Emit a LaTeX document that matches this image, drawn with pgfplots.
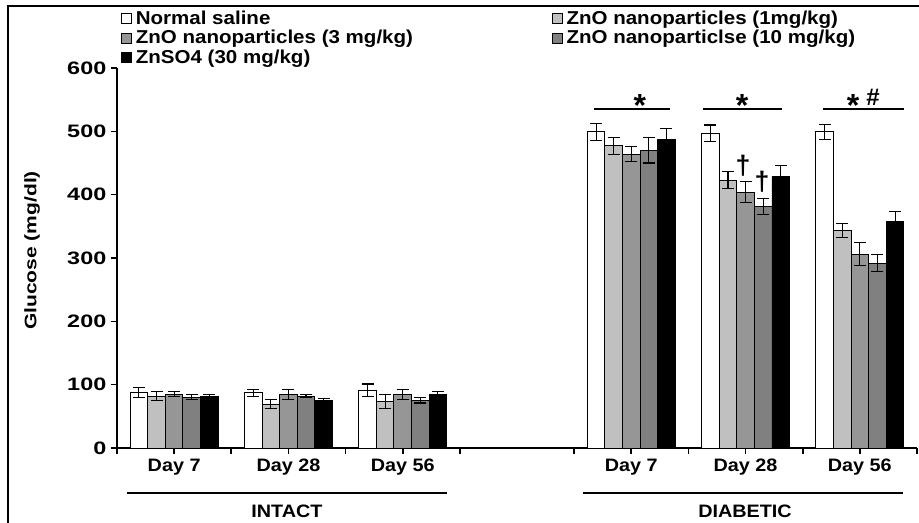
\documentclass[border=0pt]{standalone}
\usepackage{fontspec}
\setmainfont{Liberation Sans}
\newfontfamily\figfont[FakeStretch=1.1]{Liberation Sans}
\newfontfamily\numfont[FakeStretch=1.3]{Liberation Sans}
\newfontfamily\labfont[FakeStretch=1.26]{Liberation Sans}
\usepackage{pgfplots}
\pgfplotsset{compat=1.18}
\definecolor{lgray}{RGB}{192,192,192}
\definecolor{mgray}{RGB}{150,150,150}
\definecolor{dgray}{RGB}{128,128,128}

\begin{document}
\begin{tikzpicture}
\path[use as bounding box] (-87.75pt,-56.25pt) rectangle (601.5pt,336pt);
\draw[line width=0.8pt] (-81.75pt,-56.25pt) -- (-81.75pt,331.5pt) -- (601.5pt,331.5pt);
\begin{axis}[
    at={(0pt,0pt)}, anchor=south west,
    scale only axis, width=600pt, height=285pt,
    xmin=0, xmax=7, ymin=0, ymax=600,
    axis x line*=bottom, axis y line*=left,
    axis line style={line width=1.5pt},
    tick align=outside,
    major tick length=4.5pt, minor tick length=4.5pt,
    tick style={black, line width=1.2pt},
    minor tick style={black, line width=1.2pt},
    xtick={0.5,1.5,2.5,4.5,5.5,6.5},
    xticklabels={Day 7,Day 28,Day 56,Day 7,Day 28,Day 56},
    minor xtick={0,1,2,3,4,5,6,7},
    ytick={0,100,...,600},
    /pgf/number format/assume math mode=true,
    xticklabel style={font=\figfont\bfseries\fontsize{13.5}{15}\selectfont},
    yticklabel style={font=\numfont\bfseries\fontsize{13.5}{15}\selectfont},
    ylabel={Glucose (mg/dl)},
    every axis y label/.style={at={(rel axis cs:0,0.52)}, xshift=-63.75pt, rotate=90, anchor=center,
        font=\labfont\bfseries\fontsize{12.5}{14}\selectfont},
    clip=false,
    error bars/y dir=both, error bars/y explicit,
    error bars/error bar style={black, line width=0.8pt},
    error bars/error mark options={rotate=90, mark size=4.5pt, line width=0.8pt, black},
    legend columns=2,
    legend cell align=left,
    legend style={at={(axis cs:0,600)}, anchor=north west, xshift=3pt, yshift=44pt,
        draw=none, fill=none, inner sep=0pt, outer sep=0pt,
        font=\figfont\bfseries\fontsize{14}{15}\selectfont,
        nodes={inner ysep=0.6pt, inner xsep=0pt, text height=10.5pt, text depth=3pt},
        /tikz/every odd column/.append style={column sep=3pt},
        /tikz/every even column/.append style={column sep=104pt}},
    legend image code/.code={\draw[#1, line width=0.6pt] (0pt,-3.2pt) rectangle (7.5pt,4.3pt);},
]
% white: normal saline
\addplot[ybar, bar width=0.154, fill=white, draw=black, line width=0.7pt]
coordinates {(0.192,87) +- (0,8) (1.192,87) +- (0,6) (2.192,91) +- (0,10)
             (4.192,499) +- (0,13) (5.192,497) +- (0,13) (6.192,499) +- (0,12)};
\addlegendentry{Normal saline}
% 1 mg/kg
\addplot[ybar, bar width=0.154, fill=lgray, draw=black, line width=0.7pt]
coordinates {(0.346,82) +- (0,7) (1.346,69) +- (0,7) (2.346,74) +- (0,11)
             (4.346,477) +- (0,13) (5.346,423) +- (0,13) (6.346,344) +- (0,11)};
\addlegendentry{ZnO nanoparticles (1mg/kg)}
% 3 mg/kg
\addplot[ybar, bar width=0.154, fill=mgray, draw=black, line width=0.7pt]
coordinates {(0.5,85) +- (0,4) (1.5,85) +- (0,8) (2.5,85) +- (0,8)
             (4.5,464) +- (0,12) (5.5,404) +- (0,17) (6.5,306) +- (0,18)};
\addlegendentry{ZnO nanoparticles (3 mg/kg)}
% 10 mg/kg
\addplot[ybar, bar width=0.154, fill=dgray, draw=black, line width=0.7pt]
coordinates {(0.654,80) +- (0,4) (1.654,82) +- (0,3) (2.654,75) +- (0,4)
             (4.654,470) +- (0,20) (5.654,381) +- (0,13) (6.654,292) +- (0,13)};
\addlegendentry{ZnO nanoparticlse (10 mg/kg)}
% ZnSO4
\addplot[ybar, bar width=0.154, fill=black, draw=black, line width=0.7pt]
coordinates {(0.808,82) +- (0,3) (1.808,75) +- (0,3) (2.808,85) +- (0,4)
             (4.808,487) +- (0,18) (5.808,428) +- (0,18) (6.808,357) +- (0,17)};
\addlegendentry{ZnSO4 (30 mg/kg)}

% significance marks
\draw[line width=1pt] (axis cs:4.174,535) -- (axis cs:4.839,535);
\draw[line width=1pt] (axis cs:5.127,535) -- (axis cs:5.819,535);
\draw[line width=1pt] (axis cs:6.177,535) -- (axis cs:6.886,535);
\node[anchor=base, font=\bfseries\fontsize{24}{26}\selectfont, inner sep=0pt] at (axis cs:4.576,524) {*};
\node[anchor=base, font=\bfseries\fontsize{24}{26}\selectfont, inner sep=0pt] at (axis cs:5.469,524) {*};
\node[anchor=base, font=\bfseries\fontsize{24}{26}\selectfont, inner sep=0pt] at (axis cs:6.44,524) {*};
\node[anchor=base, font=\bfseries\fontsize{18}{20}\selectfont, inner sep=0pt] at (axis cs:6.615,541) {\#};
\node[font=\bfseries\fontsize{20}{22}\selectfont, inner sep=0pt] at (axis cs:5.477,445) {†};
\node[font=\bfseries\fontsize{20}{22}\selectfont, inner sep=0pt] at (axis cs:5.644,420) {†};

% group brackets
\draw[line width=1.5pt] (axis cs:0.0875,-71) -- (axis cs:2.887,-71);
\draw[line width=1.5pt] (axis cs:4.077,-71) -- (axis cs:6.877,-71);
\node[font=\figfont\bfseries\fontsize{13.5}{15}\selectfont] at (axis cs:1.487,-99.5) {INTACT};
\node[font=\figfont\bfseries\fontsize{13.5}{15}\selectfont] at (axis cs:5.495,-99.5) {DIABETIC};
\end{axis}
\end{tikzpicture}
\end{document}
